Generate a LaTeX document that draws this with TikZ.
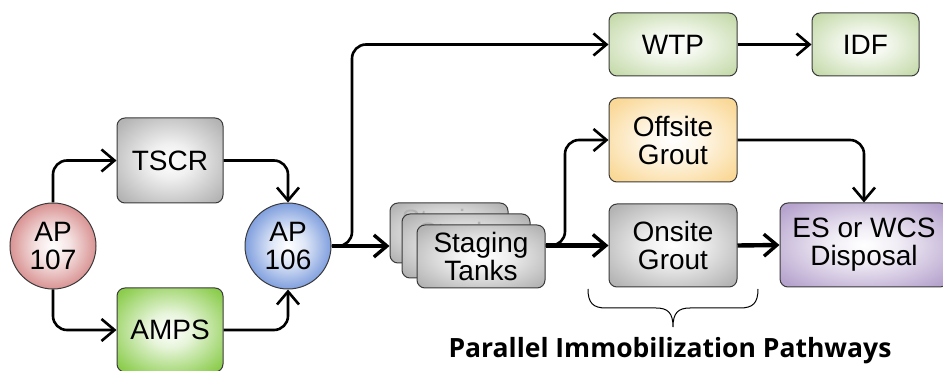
\documentclass[tikz,border=0pt]{standalone}
\usepackage{fontspec}
\setmainfont{Liberation Sans}
\newfontfamily\capfont{Open Sans}
\usetikzlibrary{arrows.meta}

\definecolor{edgeC}{HTML}{3A3A3A}
\definecolor{cGray}{HTML}{B4B4B4}
\definecolor{cAmps}{HTML}{8CCD4E}
\definecolor{cWtp}{HTML}{C6DBAC}
\definecolor{cOff}{HTML}{FAD896}
\definecolor{cEs}{HTML}{B7A4CE}
\definecolor{cRed}{HTML}{CC6E6E}
\definecolor{cBlue}{HTML}{557FD3}

\newcommand\mkbevel[2]{\pgfdeclareradialshading{#1}{\pgfpointorigin}{color(0bp)=(white); color(10bp)=(white!80!#2); color(32bp)=(#2); color(50bp)=(#2)}}
\mkbevel{bvGray}{cGray}
\mkbevel{bvAmps}{cAmps}
\mkbevel{bvWtp}{cWtp}
\mkbevel{bvOff}{cOff}
\mkbevel{bvEs}{cEs}
\mkbevel{bvRed}{cRed}
\mkbevel{bvBlue}{cBlue}

\tikzset{
  box/.style={draw=edgeC, line width=1pt, rounded corners=8pt, shade, align=center,
    font=\fontsize{28}{28}\selectfont, inner sep=0pt},
  disc/.style={circle, draw=edgeC, line width=1pt, shade, align=center,
    font=\fontsize{28}{28}\selectfont, inner sep=0pt, minimum size=86pt},
  conn/.style={draw=black, line width=2.6pt, rounded corners=14pt,
    -{Straight Barb[length=13pt,width=22pt,line width=2.6pt]}},
  thickconn/.style={draw=black, line width=4.4pt,
    -{Straight Barb[length=13pt,width=22pt,line width=3.4pt]}},
}

\begin{document}
\begin{tikzpicture}[x=1pt, y=-1pt]
\useasboundingbox (0,0) rectangle (943,371);
\clip (0,0) rectangle (943,371);

% left part
\node[disc, shading=bvRed] (ap107) at (53,246) {AP\\107};
\node[box, shading=bvGray, minimum width=106pt, minimum height=85pt] (tscr) at (170,160.5) {TSCR};
\node[box, shading=bvAmps, minimum width=106pt, minimum height=84pt] (amps) at (170,330) {AMPS};
\node[disc, shading=bvBlue] (ap106) at (288,246) {AP\\106};

% staging tanks
\node[box, shading=bvGray, minimum width=118pt, minimum height=60pt, text=gray!60] (stback) at (449,233) {Staging\\\phantom{Tanks}};
\node[box, shading=bvGray, minimum width=128pt, minimum height=64pt, text=gray!60] (stmid) at (466,246) {Staging\\\phantom{Tanks}};
\node[box, shading=bvGray, minimum width=128pt, minimum height=63pt] (stfront) at (481,256.5) {Staging\\Tanks};

% right part
\node[box, shading=bvWtp, minimum width=128pt, minimum height=63pt] (wtp) at (673,44.5) {WTP};
\node[box, shading=bvWtp, minimum width=107pt, minimum height=63pt] (idf) at (865.5,44.5) {IDF};
\node[box, shading=bvOff, minimum width=128pt, minimum height=84pt] (offsite) at (673,140) {Offsite\\Grout};
\node[box, shading=bvGray, minimum width=128pt, minimum height=83pt] (onsite) at (673,245.5) {Onsite\\Grout};
\node[box, shading=bvEs, minimum width=168pt, minimum height=84pt] (es) at (864,245) {ES or WCS\\Disposal};

% connectors
\draw[conn] (ap107.north) |- (tscr.west);
\draw[conn] (tscr.east) -| (ap106.north);
\draw[conn] (ap107.south) |- (amps.west);
\draw[conn] (amps.east) -| (ap106.south);

\coordinate (j1) at (352,246);
\draw[conn] (ap106.east) -- (j1) |- (wtp.west);
\draw[thickconn] (ap106.east) -- (ap106.east -| stback.west);
\draw[conn] (wtp.east) -- (idf.west);

\coordinate (j2) at (565,245.5);
\draw[conn] (stfront.east |- onsite.west) -- (j2) |- (offsite.west);
\draw[thickconn] (stfront.east |- onsite.west) -- (onsite.west);
\draw[conn] (offsite.east) -| (es.north);
\draw[thickconn] (onsite.east) -- (es.west);

% brace
\coordinate (bl) at (588,289);
\coordinate (br) at (758,289);
\coordinate (bt) at (673,327);
\draw[line width=1pt, black]
  (bl) .. controls (588,303) and (593,308) .. (606,308) -- (656,308)
  .. controls (668,308) and (673,313) .. (bt)
  .. controls (673,313) and (678,308) .. (690,308) -- (740,308)
  .. controls (753,308) and (758,303) .. (br);

\node[font=\capfont\bfseries\fontsize{26.5}{28}\selectfont, anchor=base] (cap) at (670,358) {Parallel Immobilization Pathways};
\end{tikzpicture}
\end{document}
